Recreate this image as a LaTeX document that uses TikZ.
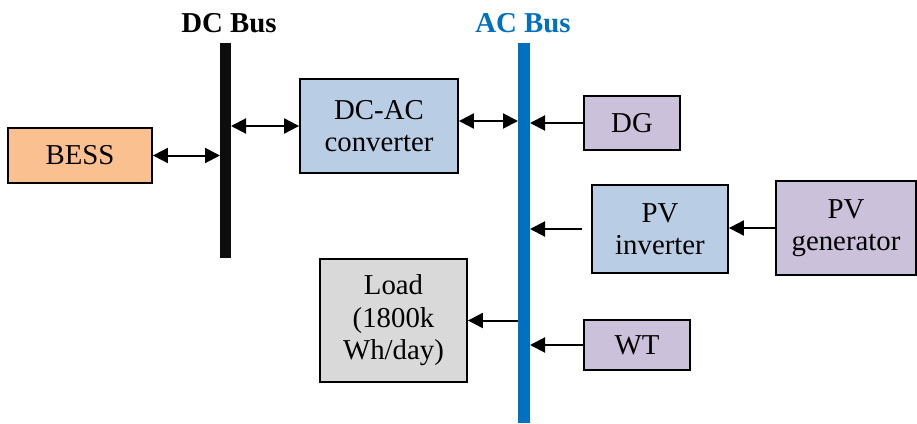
\documentclass[tikz,border=0pt]{standalone}
\usepackage{fontspec}
\setmainfont{Liberation Serif}
\usetikzlibrary{arrows.meta}
\definecolor{bessfill}{HTML}{FAC090}
\definecolor{convfill}{HTML}{B9CDE5}
\definecolor{genfill}{HTML}{CCC1DA}
\definecolor{loadfill}{HTML}{D9D9D9}
\definecolor{acblue}{HTML}{0070C0}
\begin{document}
\begin{tikzpicture}[x=1pt,y=-1pt,
    box/.style={draw,line width=1.8pt,inner sep=0pt,align=center,font=\fontsize{28.8}{32.5}\selectfont},
    busbar/.style={inner sep=0pt,outer sep=0pt},
    buslabel/.style={font=\bfseries\fontsize{28.8}{32.5}\selectfont},
    link/.style={line width=2pt,-{Triangle[length=15pt,width=15pt]}},
    dlink/.style={line width=2pt,{Triangle[length=15pt,width=15pt]}-{Triangle[length=15pt,width=15pt]}}]
    \useasboundingbox (0,0) rectangle (917,423);
    % Buses
    \node[busbar,fill=black!95,minimum width=11pt,minimum height=215pt] (dcbus) at (225.5,150.5) {};
    \node[busbar,fill=acblue,minimum width=12pt,minimum height=380pt] (acbus) at (524,233) {};
    \node[buslabel] (dclabel) at (229,23) {DC Bus};
    \node[buslabel,text=acblue] (aclabel) at (523,23) {AC Bus};
    % Blocks
    \node[box,fill=bessfill,minimum width=144pt,minimum height=55pt] (bess) at (80,155.5) {BESS};
    \node[box,fill=convfill,minimum width=158pt,minimum height=94pt] (dcac) at (379,126) {DC-AC\\converter};
    \node[box,fill=genfill,minimum width=96pt,minimum height=54pt] (dg) at (632,123) {DG};
    \node[box,fill=convfill,minimum width=136pt,minimum height=88pt] (pvinv) at (660,229) {PV\\inverter};
    \node[box,fill=genfill,minimum width=140pt,minimum height=94pt] (pvgen) at (846,228) {PV\\generator};
    \node[box,fill=loadfill,minimum width=147pt,minimum height=123pt] (load) at (393.5,320.5) {Load\\(1800k\\Wh/day)};
    \node[box,fill=genfill,minimum width=106pt,minimum height=50pt] (wt) at (637,345) {WT};
    % Connections
    \draw[dlink] (bess.east) -- (bess.east -| dcbus.west);
    \draw[dlink] (dcbus.east |- dcac.west) -- (dcac.west);
    \draw[dlink] ([yshift=5pt]dcac.east) -- ([yshift=5pt]dcac.east -| acbus.west);
    \draw[link] (dg.west) -- (dg.west -| acbus.east);
    \draw[link] ([xshift=-9pt]pvinv.west) -- (pvinv.west -| acbus.east);
    \draw[link] (pvgen.west) -- (pvgen.west -| pvinv.east);
    \draw[link] (acbus.west |- load.east) -- (load.east);
    \draw[link] (wt.west) -- (wt.west -| acbus.east);
\end{tikzpicture}
\end{document}
